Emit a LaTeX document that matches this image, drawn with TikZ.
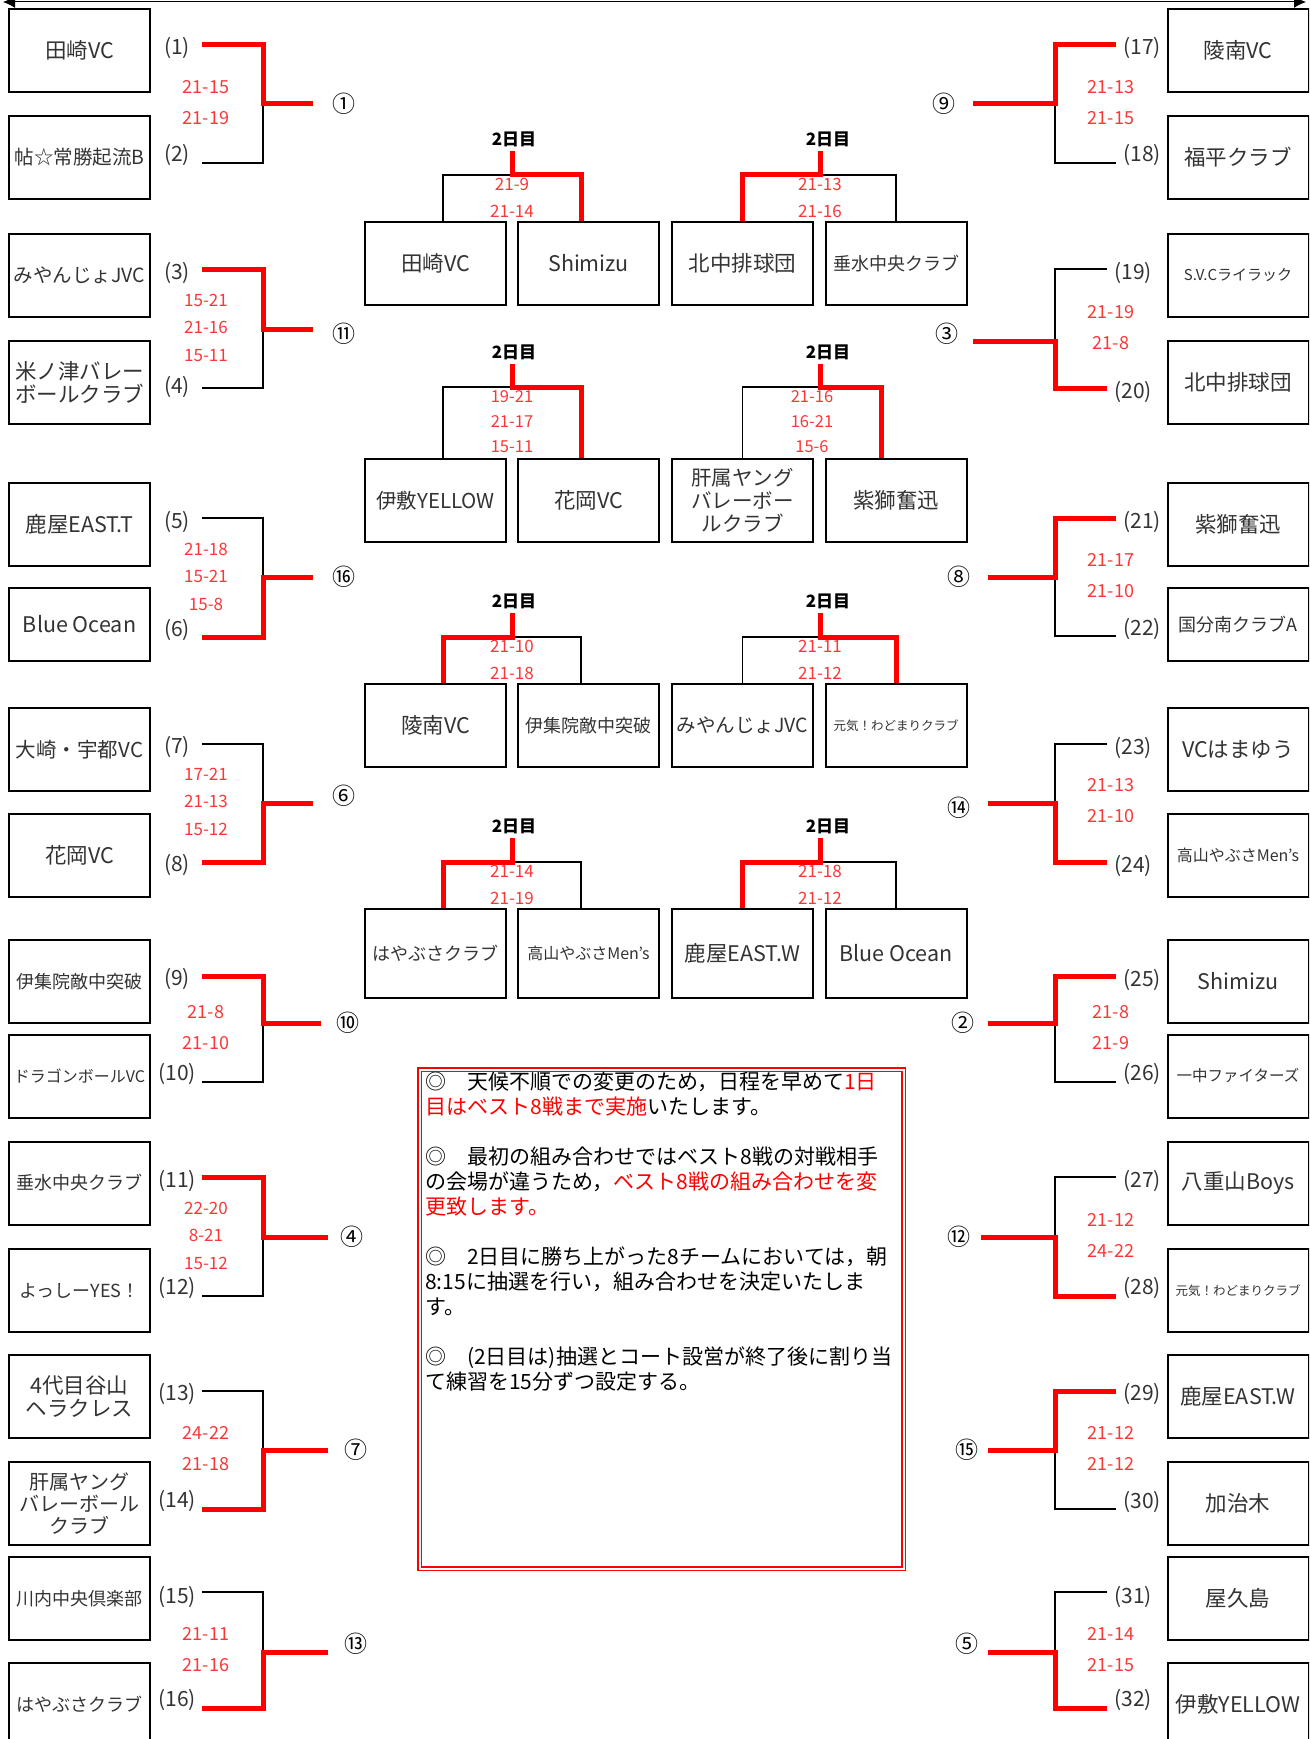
\documentclass[tikz,border=0pt]{standalone}
\usepackage{fontspec}
\setmainfont{Noto Sans CJK JP}
\usepackage{xcolor}
\usetikzlibrary{positioning, arrows.meta}
\definecolor{scorered}{RGB}{250,55,55}

\begin{document}
\begin{tikzpicture}[x=1pt, y=-1pt,
    team/.style={draw, line width=2pt, minimum width=141pt, minimum height=83pt, inner sep=0pt, align=center, text=black!80, font=\fontsize{21.5}{23}\selectfont},
    tsize/.style={font=\fontsize{#1}{22}\selectfont},
    cbox/.style={team},
    seed/.style={inner sep=0pt, minimum width=50pt, text=black!80, font=\fontsize{21}{24}\selectfont},
    rseed/.style={seed, minimum width=52pt},
    game/.style={inner sep=0pt, font=\fontsize{23}{26}\selectfont},
    score/.style={inner sep=0pt, align=center, text=scorered, font=\fontsize{18}{31}\selectfont},
    score3/.style={score, font=\fontsize{17}{27.5}\selectfont},
    cscore/.style={score, font=\fontsize{17}{27}\selectfont},
    cscore3/.style={score, font=\fontsize{16.5}{25}\selectfont},
    day/.style={inner sep=0pt, font=\bfseries\fontsize{17}{19}\selectfont},
    win/.style={draw=red, line width=5pt},
    lose/.style={draw=black, line width=1.5pt},
    memo/.style={draw=red, double=white, double distance=2pt, line width=1.5pt, minimum width=484pt, minimum height=499pt, inner sep=0pt},
    memotext/.style={inner sep=0pt, align=left, anchor=north west, font=\fontsize{21}{25}\selectfont}]

    \useasboundingbox (0,0) rectangle (1309,1739);
    \clip (0,0) rectangle (1309,1739);

    % Arrow along the top edge
    \coordinate (arrL) at (3,2);
    \coordinate (arrR) at (1306,2);
    \draw[{Latex[length=12pt,width=12pt]}-{Latex[length=12pt,width=12pt]}, line width=1pt] (arrL) -- (arrR);

    % Left column of teams (1)-(16)
    \node[team] (t1) at (79.5,50.5) {田崎VC};
    \node[team, tsize=19.5] (t2) at (79.5,157.5) {帖☆常勝起流B};
    \node[team, tsize=19.5] (t3) at (79.5,275.5) {みやんじょJVC};
    \node[team] (t4) at (79.5,382.5) {米ノ津バレー\\ボールクラブ};
    \node[team] (t5) at (79.5,524.5) {鹿屋EAST.T};
    \node[team, minimum height=73pt] (t6) at (79.5,624.5) {Blue Ocean};
    \node[team, tsize=20.5] (t7) at (79.5,749.5) {大崎・宇都VC};
    \node[team] (t8) at (79.5,855.5) {花岡VC};
    \node[team, tsize=18] (t9) at (79.5,981.5) {伊集院敵中突破};
    \node[team, tsize=16] (t10) at (79.5,1076) {ドラゴンボールVC};
    \node[team, tsize=18] (t11) at (79.5,1183) {垂水中央クラブ};
    \node[team, tsize=18] (t12) at (79.5,1290.5) {よっしーYES！};
    \node[team] (t13) at (79.5,1396.5) {4代目谷山\\ヘラクレス};
    \node[team, tsize=20] (t14) at (79.5,1503.5) {肝属ヤング\\バレーボール\\クラブ};
    \node[team, tsize=18] (t15) at (79.5,1598.5) {川内中央倶楽部};
    \node[team, tsize=18] (t16) at (79.5,1704.5) {はやぶさクラブ};

    % Right column of teams (17)-(32)
    \node[team] (t17) at (1238,50.5) {陵南VC};
    \node[team] (t18) at (1238,157.5) {福平クラブ};
    \node[team, tsize=15] (t19) at (1238,275.5) {S.V.Cライラック};
    \node[team] (t20) at (1238,382.5) {北中排球団};
    \node[team] (t21) at (1238,524.5) {紫獅奮迅};
    \node[team, tsize=18, minimum height=73pt] (t22) at (1238,624.5) {国分南クラブA};
    \node[team] (t23) at (1238,749.5) {VCはまゆう};
    \node[team, tsize=16] (t24) at (1238,855.5) {高山やぶさMen’s};
    \node[team] (t25) at (1238,981.5) {Shimizu};
    \node[team, tsize=15.5] (t26) at (1238,1076) {一中ファイターズ};
    \node[team] (t27) at (1238,1183) {八重山Boys};
    \node[team, tsize=12.5] (t28) at (1238,1290.5) {元気！わどまりクラブ};
    \node[team] (t29) at (1238,1396.5) {鹿屋EAST.W};
    \node[team] (t30) at (1238,1503.5) {加治木};
    \node[team] (t31) at (1238,1598.5) {屋久島};
    \node[team] (t32) at (1238,1704.5) {伊敷YELLOW};

    % Left brackets
    \node[seed] (s1) at (177,48) {(1)};
    \node[seed] (s2) at (177,155) {(2)};
    \coordinate (j1) at (263,104);
    \coordinate (e1) at (313,104);
    \draw[lose] ([yshift=-8pt]s2.east) -| (j1);
    \draw[win] ([yshift=3pt]s1.east) -| (j1) -- (e1);
    \node[game] (m1) at (344,104) {①};
    \node[score] (p1) at (206,102.5) {21-15\\21-19};

    \node[seed] (s3) at (177,273) {(3)};
    \node[seed] (s4) at (177,387) {(4)};
    \coordinate (j2) at (263,329);
    \coordinate (e2) at (313,329);
    \draw[lose] ([yshift=-1pt]s4.east) -| (j2);
    \draw[win] ([yshift=4pt]s3.east) -| (j2) -- (e2);
    \node[game] (m11) at (344,334) {⑪};
    \node[score3] (p2) at (206,327.5) {15-21\\21-16\\15-11};

    \node[seed] (s5) at (177,522) {(5)};
    \node[seed] (s6) at (177,630) {(6)};
    \coordinate (j3) at (263,577);
    \coordinate (e3) at (313,577);
    \draw[lose] ([yshift=4pt]s5.east) -| (j3);
    \draw[win] ([yshift=-7pt]s6.east) -| (j3) -- (e3);
    \node[game] (m16) at (344,577) {⑯};
    \node[score3] (p3) at (206,576.5) {21-18\\15-21\\15-8};

    \node[seed] (s7) at (177,747) {(7)};
    \node[seed] (s8) at (177,865) {(8)};
    \coordinate (j4) at (263,803);
    \coordinate (e4) at (313,803);
    \draw[lose] ([yshift=3pt]s7.east) -| (j4);
    \draw[win] ([yshift=3pt]s8.east) -| (j4) -- (e4);
    \node[game] (m6) at (344,796) {⑥};
    \node[score3] (p4) at (206,801.5) {17-21\\21-13\\15-12};

    \node[seed] (s9) at (177,979) {(9)};
    \node[seed] (s10) at (177,1074) {(10)};
    \coordinate (j5) at (263,1023);
    \coordinate (e5) at (321,1023);
    \draw[lose] ([yshift=-8pt]s10.east) -| (j5);
    \draw[win] ([yshift=3pt]s9.east) -| (j5) -- (e5);
    \node[game] (m10) at (348,1023) {⑩};
    \node[score] (p5) at (206,1027.5) {21-8\\21-10};

    \node[seed] (s11) at (177,1181) {(11)};
    \node[seed] (s12) at (177,1288) {(12)};
    \coordinate (j6) at (263,1237);
    \coordinate (e6) at (328,1237);
    \draw[lose] ([yshift=-8pt]s12.east) -| (j6);
    \draw[win] ([yshift=4pt]s11.east) -| (j6) -- (e6);
    \node[game] (m4) at (352,1237) {④};
    \node[score3] (p6) at (206,1235.5) {22-20\\8-21\\15-12};

    \node[seed] (s13) at (177,1394) {(13)};
    \node[seed] (s14) at (177,1501) {(14)};
    \coordinate (j7) at (263,1450);
    \coordinate (e7) at (328,1450);
    \draw[lose] ([yshift=3pt]s13.east) -| (j7);
    \draw[win] ([yshift=-8pt]s14.east) -| (j7) -- (e7);
    \node[game] (m7) at (356,1450) {⑦};
    \node[score] (p7) at (206,1448.5) {24-22\\21-18};

    \node[seed] (s15) at (177,1597) {(15)};
    \node[seed] (s16) at (177,1700) {(16)};
    \coordinate (j8) at (263,1652);
    \coordinate (e8) at (328,1652);
    \draw[lose] ([yshift=5pt]s15.east) -| (j8);
    \draw[win] ([yshift=-8pt]s16.east) -| (j8) -- (e8);
    \node[game] (m13) at (356,1644) {⑬};
    \node[score] (p8) at (206,1649.5) {21-11\\21-16};

    % Right brackets
    \node[rseed] (s17) at (1142,48) {(17)};
    \node[rseed] (s18) at (1142,155) {(18)};
    \coordinate (j9) at (1055,104);
    \coordinate (e9) at (973,104);
    \draw[lose] ([yshift=-8pt]s18.west) -| (j9);
    \draw[win] ([yshift=3pt]s17.west) -| (j9) -- (e9);
    \node[game] (m9) at (944,104) {⑨};
    \node[score] (p9) at (1111,102.5) {21-13\\21-15};

    \node[rseed] (s19) at (1133,273) {(19)};
    \node[rseed] (s20) at (1133,392) {(20)};
    \coordinate (j10) at (1055,341);
    \coordinate (e10) at (973,341);
    \draw[lose] ([yshift=4pt]s19.west) -| (j10);
    \draw[win] ([yshift=4pt]s20.west) -| (j10) -- (e10);
    \node[game] (m3) at (947,334) {③};
    \node[score] (p10) at (1111,327.5) {21-19\\21-8};

    \node[rseed] (s21) at (1142,522) {(21)};
    \node[rseed] (s22) at (1142,629) {(22)};
    \coordinate (j11) at (1055,577);
    \coordinate (e11) at (988,577);
    \draw[lose] ([yshift=-7pt]s22.west) -| (j11);
    \draw[win] ([yshift=4pt]s21.west) -| (j11) -- (e11);
    \node[game] (m8) at (959,577) {⑧};
    \node[score] (p11) at (1111,576) {21-17\\21-10};

    \node[rseed] (s23) at (1133,748) {(23)};
    \node[rseed] (s24) at (1133,866) {(24)};
    \coordinate (j12) at (1055,803);
    \coordinate (e12) at (988,803);
    \draw[lose] ([yshift=4pt]s23.west) -| (j12);
    \draw[win] ([yshift=4pt]s24.west) -| (j12) -- (e12);
    \node[game] (m14) at (959,808) {⑭};
    \node[score] (p12) at (1111,801) {21-13\\21-10};

    \node[rseed] (s25) at (1142,980) {(25)};
    \node[rseed] (s26) at (1142,1074) {(26)};
    \coordinate (j13) at (1055,1023);
    \coordinate (e13) at (988,1023);
    \draw[lose] ([yshift=-8pt]s26.west) -| (j13);
    \draw[win] ([yshift=4pt]s25.west) -| (j13) -- (e13);
    \node[game] (m2) at (963,1023) {②};
    \node[score] (p13) at (1111,1027.5) {21-8\\21-9};

    \node[rseed] (s27) at (1142,1181) {(27)};
    \node[rseed] (s28) at (1142,1288) {(28)};
    \coordinate (j14) at (1055,1237);
    \coordinate (e14) at (981,1237);
    \draw[lose] ([yshift=4pt]s27.west) -| (j14);
    \draw[win] ([yshift=-8pt]s28.west) -| (j14) -- (e14);
    \node[game] (m12) at (959,1237) {⑫};
    \node[score] (p14) at (1111,1235.5) {21-12\\24-22};

    \node[rseed] (s29) at (1142,1394) {(29)};
    \node[rseed] (s30) at (1142,1502) {(30)};
    \coordinate (j15) at (1055,1450);
    \coordinate (e15) at (988,1450);
    \draw[lose] ([yshift=-7pt]s30.west) -| (j15);
    \draw[win] ([yshift=3pt]s29.west) -| (j15) -- (e15);
    \node[game] (m15) at (967,1450) {⑮};
    \node[score] (p15) at (1111,1448.5) {21-12\\21-12};

    \node[rseed] (s31) at (1133,1597) {(31)};
    \node[rseed] (s32) at (1133,1700) {(32)};
    \coordinate (j16) at (1055,1652);
    \coordinate (e16) at (988,1652);
    \draw[lose] ([yshift=5pt]s31.west) -| (j16);
    \draw[win] ([yshift=-8pt]s32.west) -| (j16) -- (e16);
    \node[game] (m5) at (967,1644) {⑤};
    \node[score] (p16) at (1111,1649.5) {21-14\\21-15};

    % Second day: row 1
    \node[cbox] (c1) at (435.5,263.5) {田崎VC};
    \node[cbox] (c2) at (588.5,263.5) {Shimizu};
    \node[cbox] (c3) at (742.5,263.5) {北中排球団};
    \node[cbox, tsize=18] (c4) at (896,263.5) {垂水中央クラブ};
    \node[day] (d1) at (514,139) {2日目};
    \node[day] (d2) at (828,139) {2日目};
    \coordinate (k1) at (512,175);
    \coordinate (k2) at (820,175);
    \draw[lose] ([xshift=7.5pt]c1.north) |- (k1) -| ([xshift=-7.5pt]c2.north);
    \draw[win, shorten <=4pt] (d1.south -| k1) -- (k1) -| ([xshift=-7.5pt]c2.north);
    \draw[lose] (c3.north) |- (k2) -| (c4.north);
    \draw[win, shorten <=4pt] (d2.south -| k2) -- (k2) -| (c3.north);
    \node[cscore] (q1) at (512,197.5) {21-9\\21-14};
    \node[cscore] (q2) at (820,197.5) {21-13\\21-16};

    % Second day: row 2
    \node[cbox, tsize=20.5] (c5) at (435.5,500.5) {伊敷YELLOW};
    \node[cbox] (c6) at (588.5,500.5) {花岡VC};
    \node[cbox, font=\fontsize{20.5}{23}\selectfont] (c7) at (742.5,500.5) {肝属ヤング\\バレーボー\\ルクラブ};
    \node[cbox] (c8) at (896,500.5) {紫獅奮迅};
    \node[day] (d3) at (514,352) {2日目};
    \node[day] (d4) at (828,352) {2日目};
    \coordinate (k3) at (512,387);
    \coordinate (k4) at (820,387);
    \draw[lose] ([xshift=7.5pt]c5.north) |- (k3) -| ([xshift=-7.5pt]c6.north);
    \draw[win, shorten <=4pt] (d3.south -| k3) -- (k3) -| ([xshift=-7.5pt]c6.north);
    \draw[lose] (c7.north) |- (k4) -| ([xshift=-15pt]c8.north);
    \draw[win, shorten <=4pt] (d4.south -| k4) -- (k4) -| ([xshift=-15pt]c8.north);
    \node[cscore3] (q3) at (512,422) {19-21\\21-17\\15-11};
    \node[cscore3] (q4) at (812,422) {21-16\\16-21\\15-6};

    % Second day: row 3
    \node[cbox] (c9) at (435.5,725.5) {陵南VC};
    \node[cbox, tsize=18] (c10) at (588.5,725.5) {伊集院敵中突破};
    \node[cbox, tsize=19.5] (c11) at (742.5,725.5) {みやんじょJVC};
    \node[cbox, tsize=12.5] (c12) at (896,725.5) {元気！わどまりクラブ};
    \node[day] (d5) at (514,601) {2日目};
    \node[day] (d6) at (828,601) {2日目};
    \coordinate (k5) at (512,637);
    \coordinate (k6) at (820,637);
    \draw[lose] ([xshift=7.5pt]c9.north) |- (k5) -| ([xshift=-7.5pt]c10.north);
    \draw[win, shorten <=4pt] (d5.south -| k5) -- (k5) -| ([xshift=7.5pt]c9.north);
    \draw[lose] (c11.north) |- (k6) -| (c12.north);
    \draw[win, shorten <=4pt] (d6.south -| k6) -- (k6) -| (c12.north);
    \node[cscore] (q5) at (512,659.5) {21-10\\21-18};
    \node[cscore] (q6) at (820,659.5) {21-11\\21-12};

    % Second day: row 4
    \node[cbox, tsize=18, minimum height=89pt] (c13) at (435.5,953.5) {はやぶさクラブ};
    \node[cbox, tsize=16, minimum height=89pt] (c14) at (588.5,953.5) {高山やぶさMen’s};
    \node[cbox, minimum height=89pt] (c15) at (742.5,953.5) {鹿屋EAST.W};
    \node[cbox, minimum height=89pt] (c16) at (896,953.5) {Blue Ocean};
    \node[day] (d7) at (514,826) {2日目};
    \node[day] (d8) at (828,826) {2日目};
    \coordinate (k7) at (512,862);
    \coordinate (k8) at (820,862);
    \draw[lose] ([xshift=7.5pt]c13.north) |- (k7) -| ([xshift=-7.5pt]c14.north);
    \draw[win, shorten <=4pt] (d7.south -| k7) -- (k7) -| ([xshift=7.5pt]c13.north);
    \draw[lose] (c15.north) |- (k8) -| (c16.north);
    \draw[win, shorten <=4pt] (d8.south -| k8) -- (k8) -| (c15.north);
    \node[cscore] (q7) at (512,884.5) {21-14\\21-19};
    \node[cscore] (q8) at (820,884.5) {21-18\\21-12};

    % Notice box
    \node[memo] (frame) at (661.5,1319) {};
    \node[memotext] (notes) at (425,1072) {%
        ◎　天候不順での変更のため，日程を早めて{\color{red}1日}\\
        {\color{red}目はベスト8戦まで実施}いたします。\\[25pt]
        ◎　最初の組み合わせではベスト8戦の対戦相手\\
        の会場が違うため，{\color{red}ベスト8戦の組み合わせを変}\\
        {\color{red}更致します。}\\[25pt]
        ◎　2日目に勝ち上がった8チームにおいては，朝\\
        8:15に抽選を行い，組み合わせを決定いたしま\\
        す。\\[25pt]
        ◎　(2日目は)抽選とコート設営が終了後に割り当\\
        て練習を15分ずつ設定する。};

\end{tikzpicture}
\end{document}
